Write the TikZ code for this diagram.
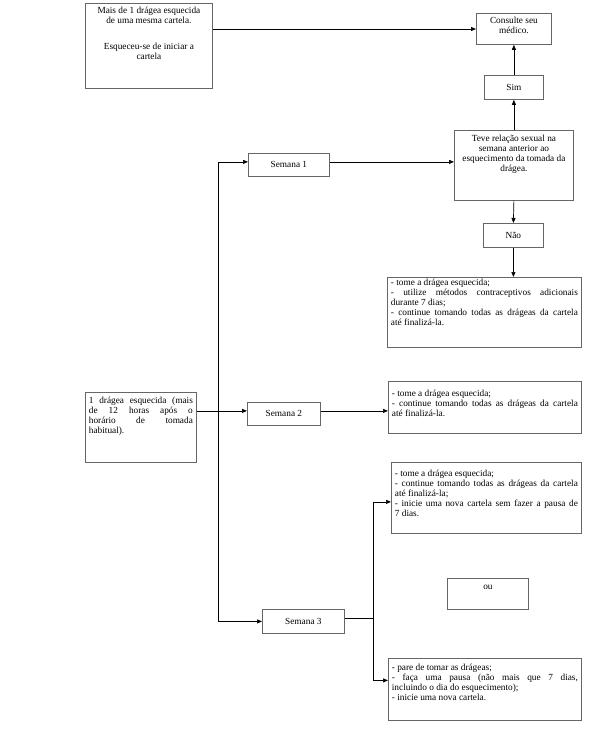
\documentclass[tikz,border=0pt]{standalone}
\usepackage{fontspec}
\setmainfont{Liberation Serif}
\usetikzlibrary{arrows.meta}
\hyphenpenalty=10000
\exhyphenpenalty=10000
\newcommand\pbc[4]{\parbox[c][#2][t]{#1}{\vspace*{#3}\centering #4\par}}
\newcommand\pbj[4]{\parbox[c][#2][t]{#1}{\vspace*{#3}\emergencystretch=20pt #4\par}}
\tikzset{
  bx/.style={draw=black!60, line width=0.8pt, inner xsep=3.5pt, inner ysep=0pt, anchor=north west,
    font=\fontsize{9.3}{10}\selectfont},
  sm/.style={draw=black!60, line width=0.8pt, inner sep=0pt, anchor=north west,
    font=\fontsize{9.3}{10}\selectfont},
  arr/.style={-{Triangle[length=5pt,width=4pt]}, line width=0.7pt},
  ln/.style={line width=0.7pt}
}
\begin{document}
\begin{tikzpicture}[x=1pt,y=-1pt]
\useasboundingbox (0,0) rectangle (615,756);
% top area
\node[bx] (top) at (85,3) {\pbc{120pt}{85pt}{4pt}{Mais de 1 drágea esquecida\\de uma mesma cartela.\\[16pt]Esqueceu-se de iniciar a\\cartela}};
\node[bx] (cons) at (476,13) {\pbc{68pt}{31pt}{4pt}{Consulte seu\\médico.}};
\node[sm, minimum width=59pt, minimum height=24pt] (sim) at (484,75) {Sim};
\node[bx] (teve) at (454,130) {\pbc{112pt}{70pt}{5pt}{Teve relação sexual na\\semana anterior ao\\esquecimento da tomada da\\drágea.}};
\node[sm, minimum width=60pt, minimum height=24pt] (nao) at (483,223) {Não};
\node[bx] (b1) at (387,277) {\pbj{187pt}{70pt}{2pt}{- tome a drágea esquecida;\par
- utilize métodos contraceptivos adicionais\linebreak durante 7 dias;\par
- continue tomando todas as drágeas da cartela\linebreak até finalizá-la.}};
\node[sm, minimum width=81pt, minimum height=23pt] (sem1) at (248,153) {Semana 1};
% middle
\node[bx] (left) at (85,392) {\pbj{104pt}{70pt}{5pt}{1 drágea esquecida (mais\linebreak de 12 horas após o\linebreak horário de tomada\linebreak habitual).}};
\node[sm, minimum width=73pt, minimum height=23pt] (sem2) at (247,402) {Semana 2};
\node[bx] (b2) at (388,381) {\pbj{186pt}{52pt}{9pt}{- tome a drágea esquecida;\par
- continue tomando todas as drágeas da cartela\linebreak até finalizá-la.}};
\node[bx] (b3) at (391,462) {\pbj{183pt}{71pt}{8pt}{- tome a drágea esquecida;\par
- continue tomando todas as drágeas da cartela\linebreak até finalizá-la;\par
- inicie uma nova cartela sem fazer a pausa de\linebreak 7 dias.}};
\node[bx] (ou) at (447,578) {\pbc{74pt}{31pt}{7pt}{ou}};
\node[sm, minimum width=82pt, minimum height=24pt] (sem3) at (262,609) {Semana 3};
\node[bx] (b4) at (388,658) {\pbj{186pt}{62pt}{6pt}{- pare de tomar as drágeas;\par
- faça uma pausa (não mais que 7 dias,\linebreak incluindo o dia do esquecimento);\par
- inicie uma nova cartela.}};
% connector points
\coordinate (tr) at (218,0);
\coordinate (sp) at (373,0);
\coordinate (ctop) at (0,29);
\coordinate (s1e) at ([yshift=3pt]sem1.east);
\coordinate (s1w) at ([yshift=3pt]sem1.west);
\coordinate (s2e) at ([yshift=3pt]sem2.east);
\coordinate (s2w) at ([yshift=3pt]sem2.west);
\coordinate (s3e) at ([yshift=3pt]sem3.east);
\coordinate (b3w) at ([yshift=-4pt]b3.west);
\coordinate (b4w) at ([yshift=9pt]b4.west);
% connectors
\draw[arr] (top.east |- ctop) -- (cons.west |- ctop);
\draw[arr] (teve.north) -- (sim.south);
\draw[arr] (sim.north) -- (cons.south);
\draw[arr] (teve.south) -- (nao.north);
\draw[arr] (nao.south) -- (nao.south |- b1.north);
\draw[arr] (s1e) -- (teve.west |- s1e);
\draw[ln] (tr |- sem3.west) -- (tr |- s1w);
\draw[arr] (tr |- s1w) -- (s1w);
\draw[arr] (tr |- sem3.west) -- (sem3.west);
\draw[arr] (left.east |- s2w) -- (s2w);
\draw[arr] (s2e) -- (b2.west |- s2e);
\draw[ln] (s3e) -- (sp |- s3e);
\draw[ln] (sp |- b3w) -- (sp |- b4w);
\draw[arr] (sp |- b3w) -- (b3w);
\draw[arr] (sp |- b4w) -- (b4w);
\end{tikzpicture}
\end{document}
